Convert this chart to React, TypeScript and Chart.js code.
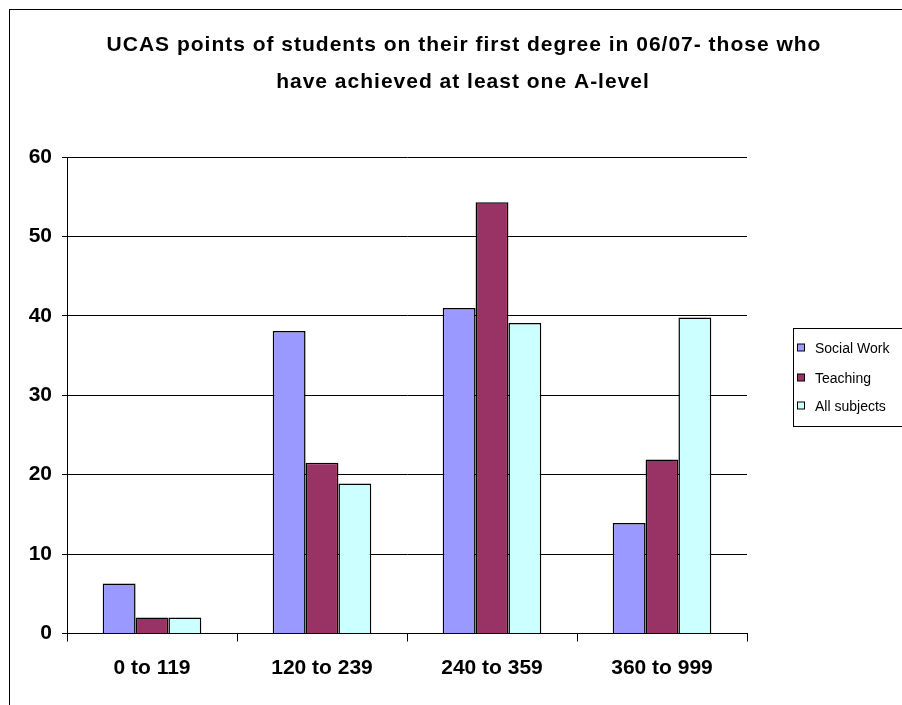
import React, { useEffect, useRef } from "react";
import { Chart, registerables } from "chart.js";

Chart.register(...registerables);

const categories = ["0 to 119", "120 to 239", "240 to 359", "360 to 999"];
const socialWork = [6.3, 38.1, 41.0, 13.9];
const teaching = [2.0, 21.5, 54.3, 21.9];
const allSubjects = [2.0, 18.9, 39.1, 39.8];
const seriesLabels = ["Social Work", "Teaching", "All subjects"];
const seriesColors = ["#9999FF", "#993366", "#CCFFFF"];
const titleLines = [
  "UCAS points of students on their first degree in 06/07- those who",
  "have achieved at least one A-level",
];

const FONT = "'Liberation Sans', Arial, sans-serif";

const framePlugin = {
  id: "frame",
  beforeDraw(chart: any) {
    const ctx = chart.ctx;
    ctx.save();
    ctx.fillStyle = "#fff";
    ctx.fillRect(0, 0, chart.width, chart.height);
    ctx.strokeStyle = "#000";
    ctx.lineWidth = 1;
    ctx.strokeRect(1.5, 1.5, chart.width + 10, chart.height + 10);
    ctx.restore();
  },
  afterDraw(chart: any) {
    const ctx = chart.ctx;
    ctx.save();
    // title
    ctx.fillStyle = "#000";
    ctx.font = `bold 21px ${FONT}`;
    ctx.textAlign = "center";
    ctx.textBaseline = "middle";
    try {
      (ctx as any).letterSpacing = "1px";
    } catch (e) {}
    ctx.fillText(titleLines[0], 456, 37);
    ctx.fillText(titleLines[1], 455, 74);
    try {
      (ctx as any).letterSpacing = "0px";
    } catch (e) {}
    // legend box
    ctx.textAlign = "left";
    const bx = 785.5;
    const by = 320.5;
    ctx.strokeStyle = "#000";
    ctx.lineWidth = 1;
    ctx.strokeRect(bx, by, 300, 98);
    const ys = [340, 370, 398];
    ctx.font = `14px ${FONT}`;
    chart.data.datasets.forEach((ds: any, i: number) => {
      const y = ys[i];
      ctx.fillStyle = ds.backgroundColor;
      ctx.fillRect(789.5, y - 4, 7, 7);
      ctx.strokeRect(789.5, y - 4, 7, 7);
      ctx.fillStyle = "#000";
      ctx.fillText(ds.label, 807, y + 1);
    });
    ctx.restore();
  },
};

export default function App() {
  const ref = useRef<HTMLCanvasElement>(null);
  useEffect(() => {
    if (!ref.current) return;
    const datasets = [socialWork, teaching, allSubjects].map((d, i) => ({
      label: seriesLabels[i],
      data: d,
      backgroundColor: seriesColors[i],
      borderColor: "#000",
      borderWidth: 1.5,
      barPercentage: 1,
      categoryPercentage: 0.58,
    }));
    const chart = new Chart(ref.current, {
      type: "bar",
      data: { labels: categories, datasets },
      options: {
        responsive: false,
        animation: false,
        layout: { padding: { left: 0, right: 221, top: 149, bottom: 0 } },
        plugins: {
          legend: { display: false },
          tooltip: { enabled: false },
          title: { display: false },
        },
        scales: {
          x: {
            afterFit: (s: any) => {
              s.height = 94.5;
            },
            grid: {
              drawOnChartArea: false,
              drawTicks: true,
              tickLength: 8,
              color: "#000",
              offset: true,
            },
            border: { display: true, color: "#000", width: 1 },
            ticks: {
              color: "#000",
              font: { family: FONT, size: 21, weight: "bold" },
              padding: 14,
              maxRotation: 0,
            },
          },
          y: {
            min: 0,
            max: 60,
            afterFit: (s: any) => {
              s.width = 59;
            },
            grid: { color: "#000", lineWidth: 1, tickLength: 5, drawTicks: true },
            border: { display: true, color: "#000", width: 1 },
            ticks: {
              stepSize: 10,
              color: "#000",
              font: { family: FONT, size: 21, weight: "bold" },
              padding: 10,
            },
          },
        },
      },
      plugins: [framePlugin],
    });
    return () => chart.destroy();
  }, []);
  return (
    <div
      style={{
        position: "fixed",
        left: 8,
        top: 8,
        width: 894,
        height: 697,
        overflow: "hidden",
      }}
    >
      <canvas ref={ref} width={960} height={720} style={{ display: "block" }} />
    </div>
  );
}
